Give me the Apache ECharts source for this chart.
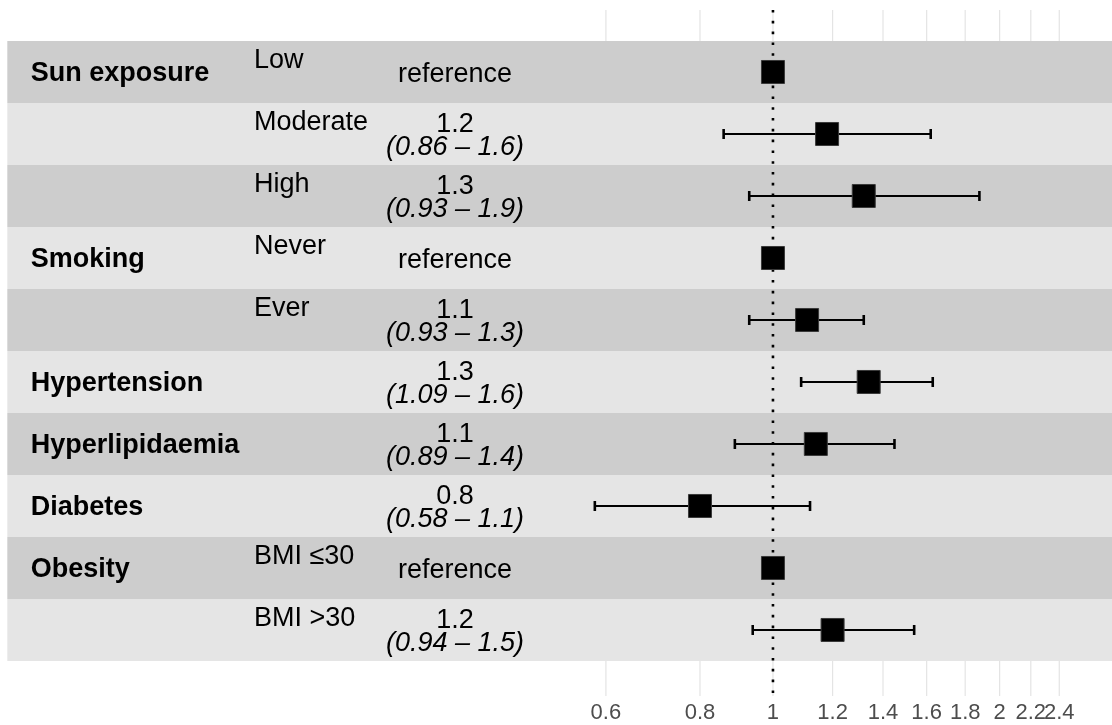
<!DOCTYPE html>
<html><head><meta charset="utf-8">
<script src="https://cdn.jsdelivr.net/npm/echarts@6/dist/echarts.min.js"></script>
<style>html,body{margin:0;padding:0;background:#fff}#c{width:1112px;height:725px}</style>
</head><body><div id="c"></div>
<script>
// ---- data ----
const groups = ['Sun exposure', '', '', 'Smoking', '', 'Hypertension', 'Hyperlipidaemia', 'Diabetes', 'Obesity', ''];
const levels = ['Low', 'Moderate', 'High', 'Never', 'Ever', '', '', '', 'BMI \u226430', 'BMI >30'];
const estimates = [1, 1.18, 1.32, 1, 1.11, 1.34, 1.14, 0.80, 1, 1.20];
const lowers = [null, 0.86, 0.93, null, 0.93, 1.09, 0.89, 0.58, null, 0.94];
const uppers = [null, 1.62, 1.88, null, 1.32, 1.63, 1.45, 1.12, null, 1.54];
const estLabels = ['reference', '1.2', '1.3', 'reference', '1.1', '1.3', '1.1', '0.8', 'reference', '1.2'];
const ciLabels = ['', '(0.86 \u2013 1.6)', '(0.93 \u2013 1.9)', '', '(0.93 \u2013 1.3)', '(1.09 \u2013 1.6)', '(0.89 \u2013 1.4)', '(0.58 \u2013 1.1)', '', '(0.94 \u2013 1.5)'];
const tickValues = [0.6, 0.8, 1, 1.2, 1.4, 1.6, 1.8, 2, 2.2, 2.4];
const tickLabels = ['0.6', '0.8', '1', '1.2', '1.4', '1.6', '1.8', '2', '2.2', '2.4'];
const refValue = 1;

// ---- layout ----
const FONT = '"Liberation Sans", Arial, Helvetica, sans-serif';
const FS = 27;
const COL_GROUP = 30.7, COL_LEVEL = 254, COL_EST = 455;

const chart = echarts.init(document.getElementById('c'), null, {renderer: 'canvas'});

const rows = groups.map((g, i) => i + 1);

function setAlign(style, a, v) {
  style.align = a; style.textAlign = a;
  style.verticalAlign = v; style.textVerticalAlign = v;
  return style;
}

const option = {
  animation: false,
  backgroundColor: '#ffffff',
  grid: {left: 7.3, right: 0, top: 10, bottom: 29, outerBoundsMode: 'none', containLabel: false},
  xAxis: {
    type: 'log', logBase: 10, min: 0.0962, max: 2.82,
    axisLine: {show: false}, axisTick: {show: false}, axisLabel: {show: false}, splitLine: {show: false}
  },
  yAxis: {
    type: 'value', inverse: true, min: 0, max: 11.065,
    axisLine: {show: false}, axisTick: {show: false}, axisLabel: {show: false}, splitLine: {show: false}
  },
  series: [
    // grid lines + tick labels
    {
      type: 'custom', z: 1, silent: true,
      data: tickValues.map((v, i) => [v, 1, i]),
      renderItem(params, api) {
        const cs = params.coordSys;
        const x = api.coord([api.value(0), 1])[0];
        const i = api.value(2);
        return {type: 'group', children: [
          {type: 'line', shape: {x1: x, y1: cs.y, x2: x, y2: cs.y + cs.height},
           style: {stroke: '#e4e4e4', lineWidth: 1.2}},
          {type: 'text', style: setAlign({text: tickLabels[i], x: x, y: cs.y + cs.height + 17,
            font: '22px ' + FONT, fill: '#4d4d4d'}, 'center', 'middle')}
        ]};
      }
    },
    // alternating row bands
    {
      type: 'custom', z: 2, silent: true,
      data: rows.map(r => [1, r]),
      renderItem(params, api) {
        const cs = params.coordSys;
        const r = api.value(1);
        const y1 = api.coord([1, r - 0.5])[1];
        const y2 = api.coord([1, r + 0.5])[1];
        return {type: 'rect', shape: {x: cs.x, y: Math.min(y1, y2), width: cs.width, height: Math.abs(y2 - y1)},
          style: {fill: r % 2 ? '#cdcdcd' : '#e5e5e5'}};
      }
    },
    // reference dotted line
    {
      type: 'custom', z: 3, silent: true,
      data: [[refValue, 1]],
      renderItem(params, api) {
        const cs = params.coordSys;
        const x = api.coord([api.value(0), 1])[0];
        return {type: 'line', shape: {x1: x, y1: cs.y, x2: x, y2: cs.y + cs.height},
          style: {stroke: '#000', lineWidth: 2.6, lineDash: [2.6, 8.2], lineCap: 'butt'}};
      }
    },
    // error bars
    {
      type: 'custom', z: 4, silent: true,
      data: rows.map((r, i) => [estimates[i], r, lowers[i], uppers[i]]).filter(d => d[2] != null),
      encode: {x: [0, 2, 3], y: 1},
      renderItem(params, api) {
        const r = api.value(1);
        const p1 = api.coord([api.value(2), r]);
        const p2 = api.coord([api.value(3), r]);
        const st = {stroke: '#000', lineWidth: 2.1};
        const cap = {stroke: '#000', lineWidth: 2.6};
        return {type: 'group', children: [
          {type: 'line', shape: {x1: p1[0], y1: p1[1], x2: p2[0], y2: p2[1]}, style: st},
          {type: 'line', shape: {x1: p1[0], y1: p1[1] - 5, x2: p1[0], y2: p1[1] + 5}, style: cap},
          {type: 'line', shape: {x1: p2[0], y1: p2[1] - 5, x2: p2[0], y2: p2[1] + 5}, style: cap}
        ]};
      }
    },
    // point estimates
    {
      type: 'scatter', z: 5, silent: true,
      symbol: 'rect', symbolSize: 23,
      itemStyle: {color: '#000', borderColor: '#3a3a3a', borderWidth: 1, opacity: 1},
      data: rows.map((r, i) => [estimates[i], r])
    },
    // text columns
    {
      type: 'custom', z: 6, silent: true,
      data: rows.map(r => [1, r]),
      renderItem(params, api) {
        const r = api.value(1);
        const i = r - 1;
        const yc = api.coord([1, r])[1];
        const kids = [];
        if (groups[i]) kids.push({type: 'text', style: setAlign({text: groups[i], x: COL_GROUP, y: yc + 1.5,
          font: 'bold ' + FS + 'px ' + FONT, fill: '#000'}, 'left', 'middle')});
        if (levels[i]) kids.push({type: 'text', style: setAlign({text: levels[i], x: COL_LEVEL, y: yc - 11,
          font: FS + 'px ' + FONT, fill: '#000'}, 'left', 'middle')});
        if (ciLabels[i]) {
          kids.push({type: 'text', style: setAlign({text: estLabels[i], x: COL_EST, y: yc - 9.5,
            font: FS + 'px ' + FONT, fill: '#000'}, 'center', 'middle')});
          kids.push({type: 'text', style: setAlign({text: ciLabels[i], x: COL_EST, y: yc + 13.5,
            font: 'italic ' + FS + 'px ' + FONT, fill: '#000'}, 'center', 'middle')});
        } else {
          kids.push({type: 'text', style: setAlign({text: estLabels[i], x: COL_EST, y: yc + 2.5,
            font: FS + 'px ' + FONT, fill: '#000'}, 'center', 'middle')});
        }
        return {type: 'group', children: kids};
      }
    }
  ]
};
chart.setOption(option);
</script>
</body></html>
